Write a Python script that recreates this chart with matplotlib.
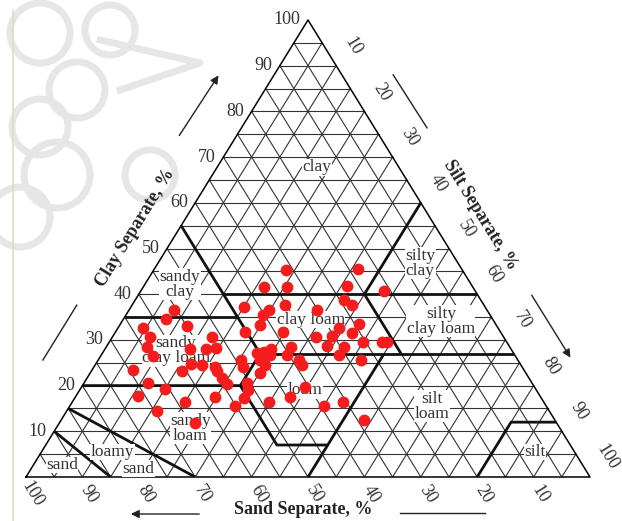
import numpy as np
import matplotlib
matplotlib.use('Agg')
import matplotlib.pyplot as plt
from matplotlib.patches import Circle

# Sample texture, % (silt = 100 - sand - clay)
sand = [55.5, 57.9, 55.0, 63.0, 62.7, 64.3, 64.2, 69.3, 68.1, 65.7,
        71.3, 69.6, 63.6, 64.1, 60.7, 56.9, 58.4, 56.5, 54.1, 51.7,
        52.2, 54.5, 54.5, 54.4, 54.2, 57.8, 55.2, 49.1, 49.5, 42.7,
        45.3, 50.5, 51.1, 52.7, 41.9, 37.0, 32.9, 31.3, 18.4, 22.2,
        16.1, 35.3, 38.7, 40.3, 24.3, 23.4, 30.2, 28.2, 24.2, 38.6,
        33.3, 30.3, 26.5, 25.5, 22.2, 21.3, 32.3, 29.4, 38.8, 45.5,
        44.1, 43.4, 45.7, 45.4, 40.4, 31.2, 38.8, 38.8, 27.8, 47.1,
        40.7, 44.4, 48.7, 39.4, 35.6, 33.8, 42.6]
clay = [36.5, 34.6, 33.0, 32.6, 30.6, 28.4, 26.5, 23.4, 20.6, 19.3,
        17.7, 14.4, 16.4, 11.8, 23.2, 28.0, 24.7, 24.5, 28.0, 30.6,
        28.2, 24.1, 23.2, 21.7, 20.4, 17.5, 15.5, 25.6, 24.1, 37.2,
        31.7, 20.6, 19.0, 17.3, 33.3, 41.6, 41.6, 45.3, 45.5, 41.8,
        40.7, 37.6, 36.5, 35.4, 38.7, 37.6, 36.5, 32.6, 33.5, 31.7,
        30.6, 30.9, 31.5, 29.5, 29.5, 29.5, 28.7, 28.4, 28.4, 27.1,
        27.4, 26.7, 25.6, 24.5, 26.7, 26.7, 25.6, 24.5, 25.6, 22.8,
        19.7, 17.5, 16.4, 15.5, 16.4, 12.5, 28.0]

# USDA class boundaries as (sand, clay) polylines
boundaries = [
    [(45, 40), (0, 40)],
    [(20, 40), (0, 60)],
    [(45, 27), (45, 55)],
    [(65, 35), (45, 35)],
    [(45, 27), (0, 27)],
    [(20, 27), (20, 40)],
    [(80, 20), (52, 20), (45, 27)],
    [(52, 20), (52, 7), (43, 7)],
    [(50, 0), (23, 27)],
    [(20, 0), (8, 12), (0, 12)],
    [(70, 0), (85, 15)],
    [(85, 0), (90, 10)],
]

# class names: (text, sand, clay)
classes = [
    ('clay', 14.5, 67.8),
    ('silty\nclay', 6.7, 46.8),
    ('sandy\nclay', 51.6, 42.2),
    ('silty\nclay loam', 9.4, 34.1),
    ('clay loam', 32.3, 34.4),
    ('sandy\nclay loam', 59.6, 27.6),
    ('loam', 41.0, 19.0),
    ('silt\nloam', 20.3, 15.5),
    ('sandy\nloam', 65.5, 10.7),
    ('loamy', 81.9, 5.5),
    ('sand', 79.2, 1.8),
    ('sand', 92.3, 2.6),
    ('silt', 7.0, 5.5),
]

ticks = [10, 20, 30, 40, 50, 60, 70, 80, 90, 100]


def tern(s, c):
    s = np.asarray(s, float)
    c = np.asarray(c, float)
    return 100 - s - c / 2, c


SERIF = 'Liberation Serif'
W, H = 622, 521
fig = plt.figure(figsize=(W / 100, H / 100), dpi=100)

# background decoration (faint watermark ornament and edge line)
bg = fig.add_axes([0, 0, 1, 1], zorder=0)
bg.set_xlim(0, W)
bg.set_ylim(H, 0)
bg.axis('off')
for (cx, cy, r) in [(40, 33, 30), (77, 90, 28), (40, 127, 28), (57, 175, 33),
                    (20, 217, 30), (110, 30, 25), (150, 175, 25)]:
    bg.add_patch(Circle((cx, cy), r, fc='none', ec='#e6e6e6', lw=5))
bg.plot([100, 200, 120], [40, 63, 90], color='#e6e6e6', lw=5)
bg.plot([13, 13], [10, H], color='#dcdcd0', lw=1.2)

ax = fig.add_axes([26 / W, (H - 477) / H, 564 / W, 457 / H], zorder=1)
ax.set_xlim(0, 100)
ax.set_ylim(0, 100)
ax.axis('off')
ax.patch.set_alpha(0)

grid_kw = dict(color='#333333', lw=0.8, zorder=1)
# 5 % mesh in all three directions
for v in range(5, 100, 5):
    ax.plot([v / 2, 100 - v / 2], [v, v], **grid_kw)
    x0, y0 = tern([v, v], [0, 100 - v])
    ax.plot(x0, y0, **grid_kw)
    ax.plot([v, 50 + v / 2], [0, 100 - v], **grid_kw)

# outline
ax.plot([0, 100, 50, 0], [0, 0, 100, 0], color='k', lw=1.1, zorder=2,
        clip_on=False)

for seg in boundaries:
    s, c = zip(*seg)
    x, y = tern(s, c)
    ax.plot(x, y, color='#111111', lw=2.0, zorder=3, solid_capstyle='butt')

for name, s, c in classes:
    x, y = tern(s, c)
    ax.text(x, y, name, ha='center', va='center', fontsize=12.5,
            family=SERIF, color='#333333', linespacing=0.9, zorder=4,
            bbox=dict(fc='white', ec='none', pad=0.3))

px, py = tern(sand, clay)
ax.plot(px, py, 'o', color='#f41c1c', ms=7.5, mec='#f41c1c', zorder=5,
        clip_on=False)

ang = np.degrees(np.arctan2(457, 282))
tick_kw = dict(fontsize=13, family=SERIF, color='#333333', va='center')
for t in ticks:
    # clay, left edge
    ax.text(t / 2 - 1.3, t, str(t), ha='right', **tick_kw)
    # silt, right edge
    ax.text(50 + t / 2 + 3, 100 - t + 4.3, str(t), ha='center',
            rotation=-ang, rotation_mode='anchor', **tick_kw)
    # sand, base
    ax.text(100 - t + 1.2, -3.8, str(t), ha='center', rotation=-ang,
            rotation_mode='anchor', **tick_kw)

title_kw = dict(fontsize=13, family=SERIF, weight='bold', color='#222222',
                ha='center', va='center')
ax.text(19.3, 54.5, 'Clay Separate, %', rotation=ang, **title_kw)
ax.text(80.5, 57.3, 'Silt Separate, %', rotation=-ang, **title_kw)
ax.text(49.1, -7.2, 'Sand Separate, %', **title_kw)

arr = dict(arrowstyle='-|>', color='#222222', lw=1.0, mutation_scale=12)
ax.annotate('', xy=(34.4, 88.4), xytext=(26.9, 74.2), arrowprops=arr,
            annotation_clip=False)
ax.annotate('', xy=(96.8, 25.6), xytext=(89.4, 40.3), arrowprops=arr,
            annotation_clip=False)
ax.annotate('', xy=(18.1, -8.1), xytext=(31.2, -8.1), arrowprops=arr,
            annotation_clip=False)
line_kw = dict(color='#222222', lw=1.0, clip_on=False)
ax.plot([3.0, 9.0], [25.6, 37.6], **line_kw)
ax.plot([65.1, 71.1], [88.0, 76.4], **line_kw)
ax.plot([66.3, 81.4], [-7.9, -7.9], **line_kw)

fig.savefig('out.png', dpi=100)
